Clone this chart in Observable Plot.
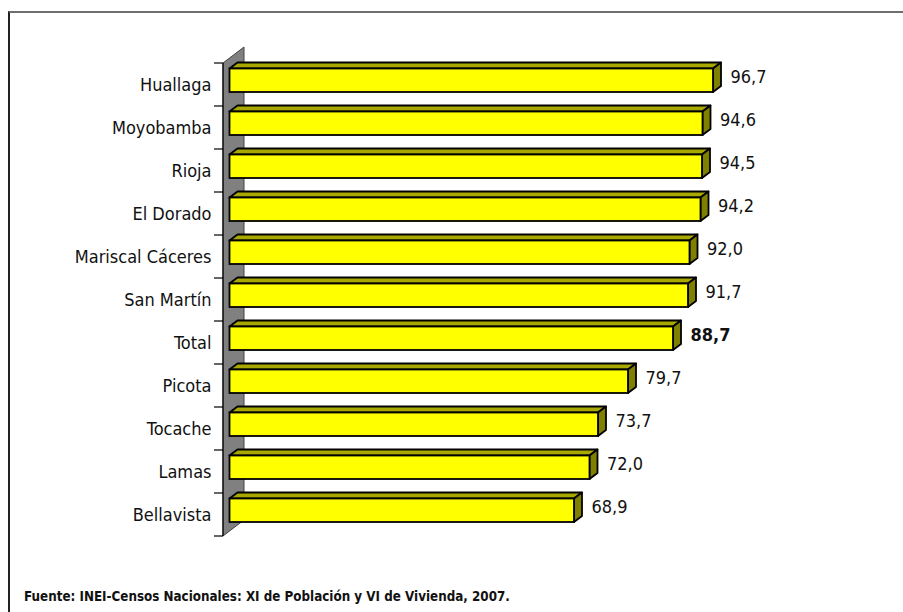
<!DOCTYPE html>
<html>
<head>
<meta charset="utf-8">
<script src="https://cdn.jsdelivr.net/npm/d3@7"></script>
<script src="https://cdn.jsdelivr.net/npm/@observablehq/plot@0.6"></script>
<style>
  html, body { margin: 0; padding: 0; background: #fff; }
  #wrap { position: relative; width: 903px; height: 612px; overflow: hidden;
    font-family: "DejaVu Sans Condensed", "Liberation Sans", sans-serif; }
  #border { position: absolute; left: 8px; top: 11px; width: 920px; height: 640px;
    border-top: 2px solid #6e6e6e; border-left: 2px solid #222; }
  #chart { position: absolute; left: 0; top: 0; }
  #caption { position: absolute; left: 24px; top: 589px; font-weight: bold; font-size: 13.3px; color: #111; white-space: nowrap; }
</style>
</head>
<body>
<div id="wrap">
  <div id="border"></div>
  <div id="chart"></div>
  <div id="caption">Fuente: INEI-Censos Nacionales: XI de Población y VI de Vivienda, 2007.</div>
</div>
<script>
const names = ["Huallaga","Moyobamba","Rioja","El Dorado","Mariscal Cáceres","San Martín","Total","Picota","Tocache","Lamas","Bellavista"];
const values = [96.7, 94.6, 94.5, 94.2, 92.0, 91.7, 88.7, 79.7, 73.7, 72.0, 68.9];
const boldCategory = "Total";

const data = names.map((name, i) => ({name, value: values[i]}));
const fmt = v => v.toFixed(1).replace(".", ",");

const W = 903, H = 612, mL = 229.5, mR = 173.5, mT = 63, mB = 76;
const depthX = 8, depthY = 6;
const FS = 18;

function wallRender(index, scales, values, dim, ctx) {
  const x0 = dim.marginLeft;
  const top = dim.marginTop, bottom = dim.height - dim.marginBottom;
  const n = names.length, step = (bottom - top) / n;
  const g = d3.create("svg:g");
  g.append("path")
    .attr("d", `M${x0-6.5},${top}L${x0+14.5},${top-16}L${x0+14.5},${bottom-16}L${x0-6.5},${bottom}Z`)
    .attr("fill", "#808080").attr("stroke", "#444").attr("stroke-width", 1);
  g.append("line").attr("x1", x0-6.5).attr("x2", x0-6.5).attr("y1", top).attr("y2", bottom)
    .attr("stroke", "#000").attr("stroke-width", 1.2);
  for (let i = 0; i <= n; i++) {
    const y = top + i * step;
    g.append("line").attr("x1", x0-15.5).attr("x2", x0-6.5).attr("y1", y).attr("y2", y)
      .attr("stroke", "#000").attr("stroke-width", 1.2);
  }
  return g.node();
}

function bar3dRender(index, scales, values, dim, ctx, next) {
  const g = next(index, scales, values, dim, ctx);
  d3.select(g).selectAll("rect").each(function() {
    const r = d3.select(this);
    const x = +r.attr("x"), y = +r.attr("y"), w = +r.attr("width"), h = +r.attr("height");
    const parent = this.parentNode;
    const topFace = document.createElementNS("http://www.w3.org/2000/svg", "path");
    topFace.setAttribute("d", `M${x},${y}L${x+depthX},${y-depthY}L${x+w+depthX},${y-depthY}L${x+w},${y}Z`);
    topFace.setAttribute("fill", "#a8a800");
    topFace.setAttribute("stroke", "#000");
    topFace.setAttribute("stroke-width", "1.8");
    topFace.setAttribute("stroke-linejoin", "round");
    const side = document.createElementNS("http://www.w3.org/2000/svg", "path");
    side.setAttribute("d", `M${x+w},${y}L${x+w+depthX},${y-depthY}L${x+w+depthX},${y+h-depthY}L${x+w},${y+h}Z`);
    side.setAttribute("fill", "#808000");
    side.setAttribute("stroke", "#000");
    side.setAttribute("stroke-width", "1.8");
    side.setAttribute("stroke-linejoin", "round");
    parent.insertBefore(topFace, this);
    parent.insertBefore(side, this);
  });
  return g;
}

const chart = Plot.plot({
  width: W, height: H,
  marginLeft: mL, marginRight: mR, marginTop: mT, marginBottom: mB,
  style: {fontFamily: '"DejaVu Sans Condensed", "Liberation Sans", sans-serif', fontSize: FS + "px", color: "#111", background: "transparent", overflow: "visible"},
  x: {domain: [0, 100], axis: null},
  y: {domain: names, padding: 0, label: null},
  marks: [
    Plot.ruleX([0], {stroke: "none", render: wallRender}),
    Plot.axisY({tickSize: 0, tickPadding: 18.5, fontSize: FS, label: null}),
    Plot.barX(data, {x: "value", y: "name", fill: "#ffff00", stroke: "#000", strokeWidth: 1.8,
      insetTop: 5.5, insetBottom: 14, render: bar3dRender}),
    Plot.text(data.filter(d => d.name !== boldCategory), {x: "value", y: "name", text: d => fmt(d.value),
      textAnchor: "start", dx: 17, dy: -7.5, fontSize: FS, fill: "#111"}),
    Plot.text(data.filter(d => d.name === boldCategory), {x: "value", y: "name", text: d => fmt(d.value),
      textAnchor: "start", dx: 17, dy: -7.5, fontSize: FS, fontWeight: "bold", fill: "#111"})
  ]
});
document.getElementById("chart").appendChild(chart);
</script>
</body>
</html>
